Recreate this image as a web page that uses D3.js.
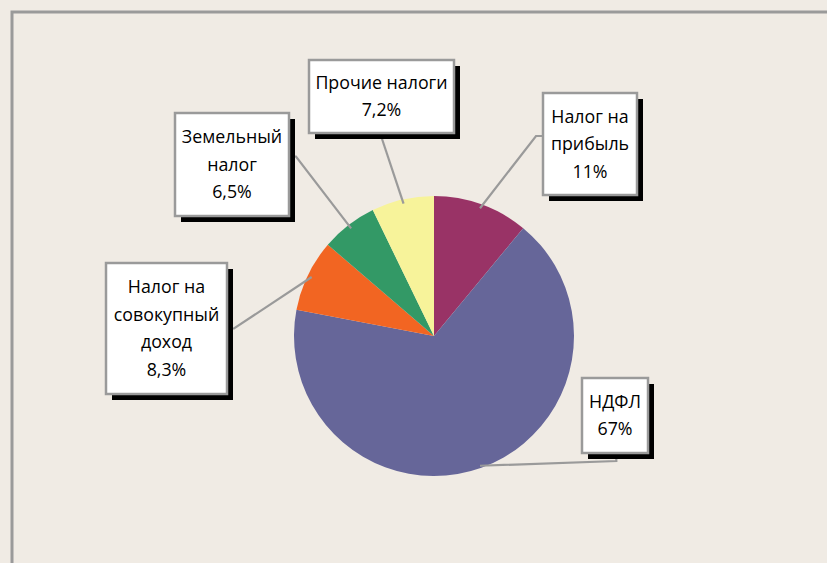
<!DOCTYPE html>
<html lang="ru">
<head>
    <meta charset="UTF-8">
    <title>Структура налоговых доходов</title>
    <script src="https://d3js.org/d3.v7.min.js"></script>
    <style>
        html, body { margin: 0; padding: 0; background: #f0ebe4; }
        svg { display: block; }
        text { font-family: "Open Sans", sans-serif; fill: #000; }
    </style>
</head>
<body>
<svg id="chart"></svg>
<script>
    // slices, clockwise from 12 o'clock
    const categories = ["Налог на прибыль", "НДФЛ", "Налог на совокупный доход", "Земельный налог", "Прочие налоги"];
    const values = [11, 67, 8.3, 6.5, 7.2];
    const valueLabels = ["11%", "67%", "8,3%", "6,5%", "7,2%"];
    const labelLines = [
        ["Налог на", "прибыль"],
        ["НДФЛ"],
        ["Налог на", "совокупный", "доход"],
        ["Земельный", "налог"],
        ["Прочие налоги"]
    ];
    const colors = ["#993366", "#666699", "#f26522", "#339966", "#f7f39a"];

    // label box layout: x, y, w, h and where the leader leaves the box
    const boxes = [
        {x: 543, y: 93, w: 94, h: 102, side: "left"},
        {x: 582, y: 378, w: 66, h: 75, side: "bottom-hook"},
        {x: 106, y: 263, w: 121, h: 131, side: "right"},
        {x: 175, y: 113, w: 114, h: 103, side: "right"},
        {x: 309, y: 60, w: 145, h: 73, side: "bottom"}
    ];

    function drawPie() {
        const width = 827, height = 563;
        const cx = 434, cy = 336, radius = 140;

        const svg = d3.select("#chart").attr("width", width).attr("height", height);

        svg.append("rect")
            .attr("x", 12).attr("y", 12)
            .attr("width", width + 20).attr("height", height + 20)
            .attr("fill", "#f0ebe4")
            .attr("stroke", "#9a9a9a").attr("stroke-width", 3);

        const data = categories.map((c, i) => ({name: c, value: values[i], i: i}));

        const pie = d3.pie().sort(null).value(d => d.value);
        const arcs = pie(data);
        const arc = d3.arc().innerRadius(0).outerRadius(radius);

        const g = svg.append("g").attr("transform", "translate(" + cx + "," + cy + ")");

        g.selectAll("path.slice")
            .data(arcs)
            .join("path")
            .attr("class", "slice")
            .attr("fill", d => colors[d.data.i])
            .attr("d", arc);

        // leader lines
        const leaders = svg.append("g");
        arcs.forEach(function(d) {
            const b = boxes[d.data.i];
            const mid = (d.startAngle + d.endAngle) / 2;
            const r = radius * 0.97;
            const px = cx + Math.sin(mid) * r;
            const py = cy - Math.cos(mid) * r;
            let pts;
            if (b.side === "left") {
                const ay = b.y + b.h / 2 - 8;
                pts = [[b.x, ay], [b.x - 7, ay], [px, py]];
            } else if (b.side === "right") {
                const ay = b.y + b.h / 2 - (b.h > 120 ? 0 : 8);
                pts = [[b.x + b.w, ay], [b.x + b.w + 7, ay], [px, py]];
            } else if (b.side === "bottom") {
                const ax = b.x + b.w * 0.49;
                pts = [[ax, b.y + b.h], [px, py]];
            } else {
                const ax = b.x + b.w * 0.52;
                pts = [[ax, b.y + b.h], [ax, b.y + b.h + 8], [px, py + 2]];
            }
            leaders.append("path")
                .attr("d", d3.line()(pts))
                .attr("fill", "none")
                .attr("stroke", "#9a9a9a")
                .attr("stroke-width", 2.2);
        });

        // label boxes
        const lg = svg.append("g").selectAll("g.label")
            .data(data)
            .join("g")
            .attr("class", "label")
            .attr("transform", d => "translate(" + boxes[d.i].x + "," + boxes[d.i].y + ")");

        lg.append("rect")
            .attr("x", 6).attr("y", 6)
            .attr("width", d => boxes[d.i].w).attr("height", d => boxes[d.i].h)
            .attr("fill", "#000");

        lg.append("rect")
            .attr("width", d => boxes[d.i].w).attr("height", d => boxes[d.i].h)
            .attr("fill", "#fff")
            .attr("stroke", "#9a9a9a").attr("stroke-width", 2.5);

        const lineH = 27.5;
        lg.each(function(d) {
            const b = boxes[d.i];
            const lines = labelLines[d.i].concat([valueLabels[d.i]]);
            const top = b.h / 2 - (lines.length - 1) * lineH / 2;
            const t = d3.select(this).append("text")
                .attr("text-anchor", "middle")
                .attr("font-size", 17.8);
            lines.forEach(function(s, k) {
                t.append("tspan")
                    .attr("x", b.w / 2)
                    .attr("y", top + k * lineH)
                    .attr("dy", "0.35em")
                    .text(s);
            });
        });
    }

    drawPie();
</script>
</body>
</html>
